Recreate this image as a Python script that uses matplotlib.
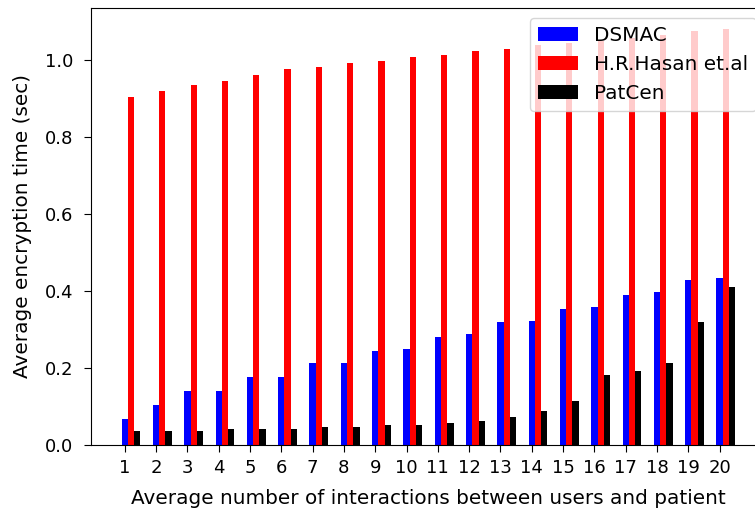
import matplotlib
matplotlib.use('Agg')
import matplotlib.pyplot as plt
import numpy as np

labels = [str(i) for i in range(1, 21)]
dsmac = [0.068, 0.104, 0.141, 0.141, 0.177, 0.177, 0.214, 0.214, 0.244, 0.249,
         0.281, 0.287, 0.318, 0.323, 0.354, 0.359, 0.390, 0.396, 0.427, 0.433]
hasan = [0.902, 0.918, 0.933, 0.944, 0.960, 0.976, 0.981, 0.991, 0.996, 1.007,
         1.012, 1.023, 1.028, 1.037, 1.042, 1.048, 1.055, 1.064, 1.074, 1.080]
patcen = [0.036, 0.036, 0.036, 0.041, 0.041, 0.041, 0.046, 0.046, 0.051, 0.051,
          0.056, 0.062, 0.072, 0.087, 0.113, 0.182, 0.192, 0.213, 0.318, 0.411]

plt.rcParams['font.size'] = 14.4
plt.rcParams['xtick.labelsize'] = 13
plt.rcParams['ytick.labelsize'] = 13

fig = plt.figure(figsize=(7.55, 5.12), dpi=100)
# the original picture is cut off on the right, so the axes run past the edge
ax = fig.add_axes([0.1205, 0.1309, 0.894, 0.8535])

x = np.arange(len(labels))
w = 0.2
ax.bar(x, dsmac, w, color='blue', label='DSMAC')
ax.bar(x + w, hasan, w, color='red', label='H.R.Hasan et.al')
ax.bar(x + 2 * w, patcen, w, color='black', label='PatCen')

ax.set_xticks(x)
ax.set_xticklabels(labels)
ax.tick_params(axis='x', length=5, pad=5)
ax.tick_params(axis='y', length=5, pad=8)
ax.set_xlabel('Average number of interactions between users and patient', labelpad=9)
ax.set_ylabel('Average encryption time (sec)', labelpad=9)
ax.legend(loc='upper right')

fig.savefig('out.png', dpi=100)
